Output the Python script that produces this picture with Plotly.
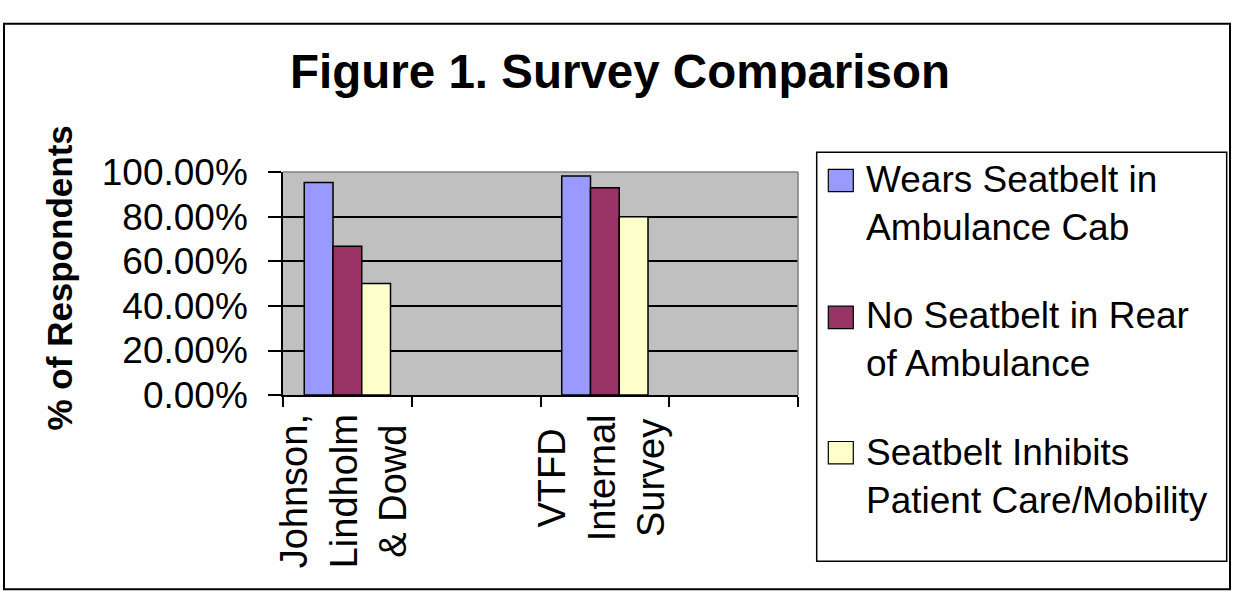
import plotly.graph_objects as go

# ---- data ----
categories = ["Johnson,<br>Lindholm<br>& Dowd", "VTFD<br>Internal<br>Survey"]
slots = [categories[0], " ", categories[1], "  "]
series_names = [
    "Wears Seatbelt in<br>Ambulance Cab",
    "No Seatbelt in Rear<br>of Ambulance",
    "Seatbelt Inhibits<br>Patient Care/Mobility",
]
wears_cab = [0.953, 0.982]
no_belt_rear = [0.667, 0.93]
inhibits_care = [0.50, 0.80]
y_ticks = [0.0, 0.2, 0.4, 0.6, 0.8, 1.0]

series_values = [wears_cab, no_belt_rear, inhibits_care]
colors = ["#9999FF", "#993366", "#FFFFCC"]

W, H = 1233, 613
FONT = "Liberation Sans, Arial, sans-serif"


def px_x(v):
    return v / W


def px_y(v):
    return (H - v) / H


fig = go.Figure()
for name, vals, col in zip(series_names, series_values, colors):
    fig.add_trace(go.Bar(
        x=categories, y=vals, name=name.replace("<br>", " "),
        marker=dict(color=col, line=dict(color="black", width=1.5)),
        showlegend=False,
    ))

fig.update_layout(
    width=W, height=H,
    margin=dict(l=0, r=0, t=0, b=0),
    paper_bgcolor="white",
    plot_bgcolor="#C0C0C0",
    barmode="group",
    bargap=0.33,
    bargroupgap=0,
    font=dict(family=FONT, color="black"),
    title=dict(
        text="<b>Figure 1. Survey Comparison</b>",
        x=px_x(620), xanchor="center", xref="paper",
        y=px_y(55.5), yanchor="middle", yref="paper",
        font=dict(size=47.5, family=FONT, color="black"),
    ),
    xaxis=dict(
        domain=[px_x(283), px_x(798)],
        type="category",
        categoryorder="array", categoryarray=slots,
        range=[-0.5, 3.5],
        tickson="boundaries",
        ticks="outside", ticklen=10, tickwidth=1.5, tickcolor="black",
        showticklabels=False,
        showline=True, linecolor="black", linewidth=1.5,
        showgrid=False, zeroline=False,
    ),
    yaxis=dict(
        domain=[px_y(402), px_y(163)],
        range=[0, 1],
        tickmode="array", tickvals=y_ticks, tickformat=".2%",
        ticks="outside", ticklen=13, tickwidth=1.5, tickcolor="black",
        ticklabelstandoff=13,
        tickfont=dict(size=37, family=FONT, color="black"),
        showline=True, linecolor="black", linewidth=1.5,
        showgrid=True, gridcolor="black", gridwidth=1.5,
        zeroline=False,
    ),
)

# category labels: rotated, lines centred within the block (as in the original)
for cat in categories:
    fig.add_annotation(
        text=cat, textangle=-90, align="center",
        x=cat, xref="x", xshift=-3,
        y=px_y(420), yref="paper", yanchor="top", xanchor="center",
        showarrow=False, font=dict(size=38, family=FONT, color="black"),
    )

# y axis title
fig.add_annotation(
    text="<b>% of Respondents</b>", textangle=-90,
    x=px_x(59), y=px_y(277), xref="paper", yref="paper",
    xanchor="center", yanchor="middle", showarrow=False,
    font=dict(size=35, family=FONT, color="black"),
)

# plot-area gray border on top and right edges
fig.add_shape(type="line", xref="x domain", yref="y domain",
              x0=0, x1=1, y0=1, y1=1,
              line=dict(color="#808080", width=1.5), layer="above")
fig.add_shape(type="line", xref="x domain", yref="y domain",
              x0=1, x1=1, y0=0, y1=1,
              line=dict(color="#808080", width=1.5), layer="above")

# outer chart border
fig.add_shape(type="rect", xref="paper", yref="paper",
              x0=px_x(4), x1=px_x(1230), y0=px_y(610), y1=px_y(4),
              line=dict(color="black", width=2), layer="above")

# legend box
fig.add_shape(type="rect", xref="paper", yref="paper",
              x0=px_x(816.7), x1=px_x(1226.7), y0=px_y(580), y1=px_y(141.7),
              line=dict(color="black", width=1.5), fillcolor="white", layer="above")

sw_tops = [160, 306.7, 451.7]
text_centers = [197, 342.5, 489.5]
for name, col, top, tc in zip(series_names, colors, sw_tops, text_centers):
    fig.add_shape(type="rect", xref="paper", yref="paper",
                  x0=px_x(828.3), x1=px_x(853.3), y0=px_y(top + 24), y1=px_y(top),
                  line=dict(color="black", width=1.2), fillcolor=col, layer="above")
    fig.add_annotation(
        text=name, x=px_x(864), y=px_y(tc), xref="paper", yref="paper",
        xanchor="left", yanchor="middle", align="left", showarrow=False,
        font=dict(size=37, family=FONT, color="black"),
    )

fig.write_html("out.html")
